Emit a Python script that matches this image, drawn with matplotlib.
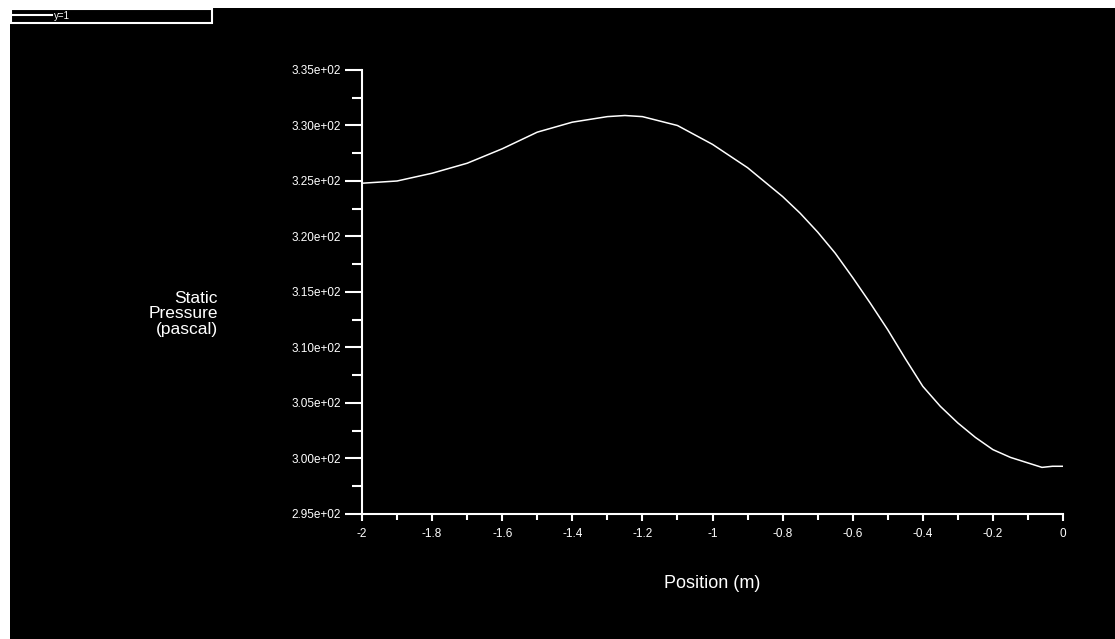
import numpy as np
import matplotlib.pyplot as plt
from matplotlib.patches import Rectangle
from matplotlib.ticker import MultipleLocator, FuncFormatter

# static pressure along the line y=1
position = [-2.0, -1.9, -1.8, -1.7, -1.6, -1.5, -1.4, -1.3, -1.25, -1.2, -1.1,
            -1.0, -0.9, -0.8, -0.75, -0.7, -0.65, -0.6, -0.55, -0.5, -0.45, -0.4,
            -0.35, -0.3, -0.25, -0.2, -0.15, -0.1, -0.06, -0.03, 0.0]
pressure = [324.8, 325.0, 325.7, 326.6, 327.9, 329.4, 330.3, 330.8, 330.9, 330.8, 330.0,
            328.3, 326.2, 323.6, 322.1, 320.4, 318.5, 316.3, 314.0, 311.6, 309.0, 306.5,
            304.7, 303.2, 301.9, 300.8, 300.1, 299.6, 299.2, 299.3, 299.3]
series_name = "y=1"

W, H = 1115, 639
fig = plt.figure(figsize=(W / 100, H / 100), dpi=100, facecolor='white')
# black plotting window with a thin white margin on the left and top
fig.patches.append(Rectangle((10 / W, 0), 1 - 10 / W, 1 - 8 / H,
                             transform=fig.transFigure, facecolor='black',
                             edgecolor='none', zorder=-10))

ax = fig.add_axes([362 / W, 1 - 514 / H, (1063 - 362) / W, (514 - 70) / H])
ax.set_facecolor('none')
ax.plot(position, pressure, color='white', lw=1.1)

ax.set_xlim(-2, 0)
ax.set_ylim(295, 335)
for s in ['top', 'right']:
    ax.spines[s].set_visible(False)
for s in ['left', 'bottom']:
    ax.spines[s].set_color('white')
    ax.spines[s].set_linewidth(1.5)

ax.xaxis.set_major_locator(MultipleLocator(0.2))
ax.xaxis.set_minor_locator(MultipleLocator(0.1))
ax.yaxis.set_major_locator(MultipleLocator(5))
ax.yaxis.set_minor_locator(MultipleLocator(2.5))
ax.xaxis.set_major_formatter(FuncFormatter(lambda v, p: f"{v:.1f}".rstrip('0').rstrip('.') if abs(v) > 1e-9 else "0"))
ax.yaxis.set_major_formatter(FuncFormatter(lambda v, p: f"{v:.2e}"))

font = ['Liberation Sans', 'DejaVu Sans']
ax.tick_params(axis='y', which='major', length=12, width=1.5, color='white',
               labelcolor='white', labelsize=8.5, pad=3)
ax.tick_params(axis='y', which='minor', length=7, width=1.5, color='white')
ax.tick_params(axis='x', which='major', length=5, width=1.5, color='white',
               labelcolor='white', labelsize=8.5, pad=5)
ax.tick_params(axis='x', which='minor', length=4, width=1.5, color='white')
for lab in ax.get_xticklabels() + ax.get_yticklabels():
    lab.set_family(font)

fig.text(218 / W, 1 - 314 / H, "Static\nPressure\n(pascal)", color='white',
         ha='right', va='center', fontsize=12.5, family=font, linespacing=1.05)
fig.text(712 / W, 1 - 584 / H, "Position (m)", color='white',
         ha='center', va='center', fontsize=13, family=font)

# legend box at the top left
fig.patches.append(Rectangle((11 / W, 1 - 23 / H), 201 / W, 14 / H,
                             transform=fig.transFigure, facecolor='black',
                             edgecolor='white', lw=1.5))
fig.lines.append(plt.Line2D([13 / W, 52 / W], [1 - 15 / H, 1 - 15 / H],
                            transform=fig.transFigure, color='white', lw=1.5))
fig.text(54 / W, 1 - 16 / H, series_name, color='white', ha='left',
         va='center', fontsize=7, family=font)

fig.savefig('out.png', dpi=100, facecolor=fig.get_facecolor())
